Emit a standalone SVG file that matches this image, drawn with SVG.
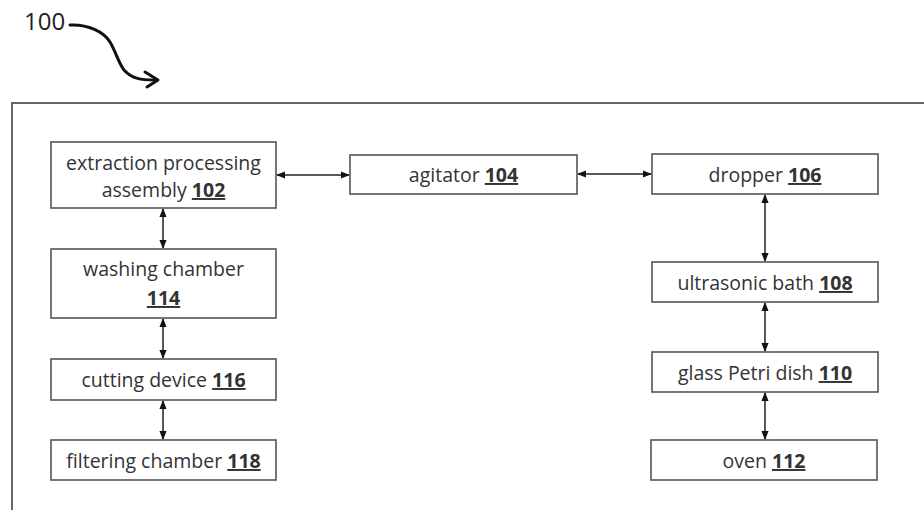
<svg xmlns="http://www.w3.org/2000/svg" width="924" height="510" viewBox="0 0 924 510">
<style>
.box{fill:#fff;stroke:#555;stroke-width:1.6}
.t{font-family:"Open Sans","Liberation Sans",sans-serif;font-size:19.5px;fill:#333;text-anchor:middle}
.n{font-weight:bold;text-decoration:underline}
.c{stroke:#222;stroke-width:1.5;fill:none;marker-start:url(#ah);marker-end:url(#ah)}
</style>
<defs>
<marker id="ah" viewBox="0 0 10 10" refX="9" refY="5" markerWidth="9" markerHeight="9" markerUnits="userSpaceOnUse" orient="auto-start-reverse">
<path d="M0,1 L10,5 L0,9 Z" fill="#111"/>
</marker>
</defs>
<rect width="924" height="510" fill="#fff"/>
<g id="ref100">
<text x="24" y="30" style="font-family:'Open Sans','Liberation Sans',sans-serif;font-size:24px;fill:#222">100</text>
<path d="M70,25 C88,24 104,32 110,42 C116,52 118,62 124,70 C132,79 142,80 154,80" fill="none" stroke="#111" stroke-width="3" stroke-linecap="round"/>
<path d="M145,72 L158,80 L147,87" fill="none" stroke="#111" stroke-width="3" stroke-linecap="round" stroke-linejoin="round"/>
</g>
<path id="frame" d="M12,510 V103 H924" fill="none" stroke="#666" stroke-width="2"/>
<g id="connectors">
<line class="c" x1="277" y1="175" x2="349" y2="175"/>
<line class="c" x1="578" y1="174" x2="651" y2="174"/>
<line class="c" x1="163" y1="209" x2="163" y2="248"/>
<line class="c" x1="163" y1="319" x2="163" y2="358"/>
<line class="c" x1="163" y1="401" x2="163" y2="439"/>
<line class="c" x1="765" y1="195" x2="765" y2="261"/>
<line class="c" x1="765" y1="303" x2="765" y2="351"/>
<line class="c" x1="765" y1="393" x2="765" y2="439"/>
</g>
<g id="n102"><rect class="box" x="51" y="142" width="225" height="66"/>
<text class="t" x="163.5" y="170">extraction processing</text>
<text class="t" x="163.5" y="197">assembly <tspan class="n">102</tspan></text></g>
<g id="n104"><rect class="box" x="350" y="155" width="227" height="39"/>
<text class="t" x="463.5" y="182">agitator <tspan class="n">104</tspan></text></g>
<g id="n106"><rect class="box" x="652" y="154" width="226" height="40"/>
<text class="t" x="765" y="182">dropper <tspan class="n">106</tspan></text></g>
<g id="n108"><rect class="box" x="652" y="262" width="226" height="40"/>
<text class="t" x="765" y="290">ultrasonic bath <tspan class="n">108</tspan></text></g>
<g id="n110"><rect class="box" x="652" y="352" width="226" height="40"/>
<text class="t" x="765" y="380">glass Petri dish <tspan class="n">110</tspan></text></g>
<g id="n112"><rect class="box" x="651" y="440" width="226" height="40"/>
<text class="t" x="764" y="468">oven <tspan class="n">112</tspan></text></g>
<g id="n114"><rect class="box" x="51" y="249" width="225" height="69"/>
<text class="t" x="163.5" y="276">washing chamber</text>
<text class="t" x="163.5" y="305"><tspan class="n">114</tspan></text></g>
<g id="n116"><rect class="box" x="51" y="359" width="225" height="41"/>
<text class="t" x="163.5" y="387">cutting device <tspan class="n">116</tspan></text></g>
<g id="n118"><rect class="box" x="51" y="440" width="225" height="40"/>
<text class="t" x="163.5" y="468">filtering chamber <tspan class="n">118</tspan></text></g>
</svg>
